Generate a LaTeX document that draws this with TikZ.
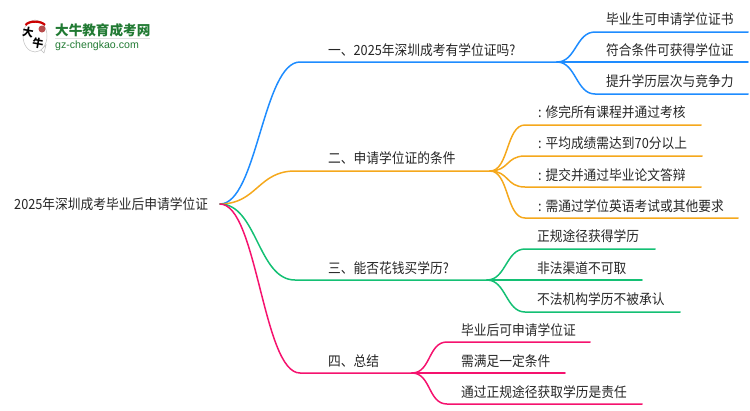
\documentclass[tikz,border=0pt]{standalone}
\usepackage{fontspec}
\setmainfont{Noto Sans CJK SC}
\newfontfamily\logolatin{Liberation Sans}
\definecolor{blueline}{HTML}{1E8CFF}
\definecolor{orangeline}{HTML}{F5A81C}
\definecolor{greenline}{HTML}{14C074}
\definecolor{pinkline}{HTML}{F5126E}
\definecolor{logogreen}{HTML}{217A33}
\definecolor{labeltext}{HTML}{262626}
\tikzset{
    label/.style={anchor=west, inner sep=0pt, text=labeltext, xscale=0.91, transform shape, font=\fontsize{14}{16}\selectfont},
    branch/.style={line width=1.5pt, line cap=round},
}
\begin{document}
\begin{tikzpicture}[x=1pt, y=-1pt]
    \useasboundingbox (0,0) rectangle (750,410);

    % logo
    \fill[white, draw=black!25, line width=0.5pt] (35,36) ellipse (12 and 16);
    \fill[white, draw=black!25, line width=0.5pt] (41,50) -- (44,53) -- (46,45) -- cycle;
    \draw[red!80!black, line width=2.2pt] (25.5,25) .. controls (29,20.5) and (41,20.5) .. (45,25);
    \fill[red!60!black, opacity=0.7] (42,29) circle (3.5);
    \node[inner sep=0pt, rotate=-10, font=\fontsize{11}{11}\bfseries\selectfont] (logoda) at (28,32) {大};
    \node[inner sep=0pt, rotate=-10, font=\fontsize{11}{11}\bfseries\selectfont] (logoniu) at (38,43) {牛};
    \node[anchor=west, inner sep=0pt, text=logogreen, font=\fontsize{13.6}{15}\bfseries\selectfont] (logoname) at (55,30) {大牛教育成考网};
    \draw[black!12, line width=0.8pt] (55,38.5) -- (150,38.5);
    \node[anchor=west, inner sep=0pt, text=logogreen, font=\fontsize{10.6}{12}\logolatin\selectfont] (logourl) at (55,45.5) {gz-chengkao.com};

    % root
    \node[label] (root) at (14,204) {2025年深圳成考毕业后申请学位证};
    \coordinate (rootend) at (220,204);

    % main branches
    \node[label] (one) at (328,50) {一、2025年深圳成考有学位证吗?};
    \node[label] (two) at (328,158) {二、申请学位证的条件};
    \node[label] (three) at (328,268) {三、能否花钱买学历?};
    \node[label] (four) at (328,361) {四、总结};

    \foreach \name/\col/\ya/\xb/\xc in {one/blueline/62/300/557, two/orangeline/171/295/490, three/greenline/280/295/487, four/pinkline/373/300/412} {
        \coordinate (\name start) at (\xb,\ya);
        \coordinate (\name end) at (\xc,\ya);
        \draw[branch, \col] (rootend) .. controls +(37,0) and ([xshift=-37pt]\name start) .. (\name start) -- (\name end);
    }

    % blue leaves
    \node[label] (onea) at (606,19) {毕业生可申请学位证书};
    \node[label] (oneb) at (606,50) {符合条件可获得学位证};
    \node[label] (onec) at (606,81) {提升学历层次与竞争力};
    % orange leaves
    \node[label] (twoa) at (538,112) {: 修完所有课程并通过考核};
    \node[label] (twob) at (538,143) {: 平均成绩需达到70分以上};
    \node[label] (twoc) at (538,175) {: 提交并通过毕业论文答辩};
    \node[label] (twod) at (538,206) {: 需通过学位英语考试或其他要求};
    % green leaves
    \node[label] (threea) at (537,236) {正规途径获得学历};
    \node[label] (threeb) at (537,268) {非法渠道不可取};
    \node[label] (threec) at (537,299) {不法机构学历不被承认};
    % pink leaves
    \node[label] (foura) at (461,330) {毕业后可申请学位证};
    \node[label] (fourb) at (461,361) {需满足一定条件};
    \node[label] (fourc) at (461,392) {通过正规途径获取学历是责任};

    \foreach \from/\to/\col/\y/\xa/\xb in {
        one/onea/blueline/32/595/748, one/oneb/blueline/62/595/748, one/onec/blueline/94/595/748,
        two/twoa/orangeline/125/525/701, two/twob/orangeline/156/525/702, two/twoc/orangeline/187/525/701, two/twod/orangeline/218/525/738,
        three/threea/greenline/249/525/655, three/threeb/greenline/280/525/642, three/threec/greenline/312/525/680,
        four/foura/pinkline/342/447/590, four/fourb/pinkline/373/447/565, four/fourc/pinkline/404/447/642} {
        \coordinate (\to bend) at (\xa,\y);
        \coordinate (\to end) at (\xb,\y);
        \draw[branch, \col] (\from end) .. controls +(19,0) and ([xshift=-19pt]\to bend) .. (\to bend) -- (\to end);
    }
\end{tikzpicture}
\end{document}
